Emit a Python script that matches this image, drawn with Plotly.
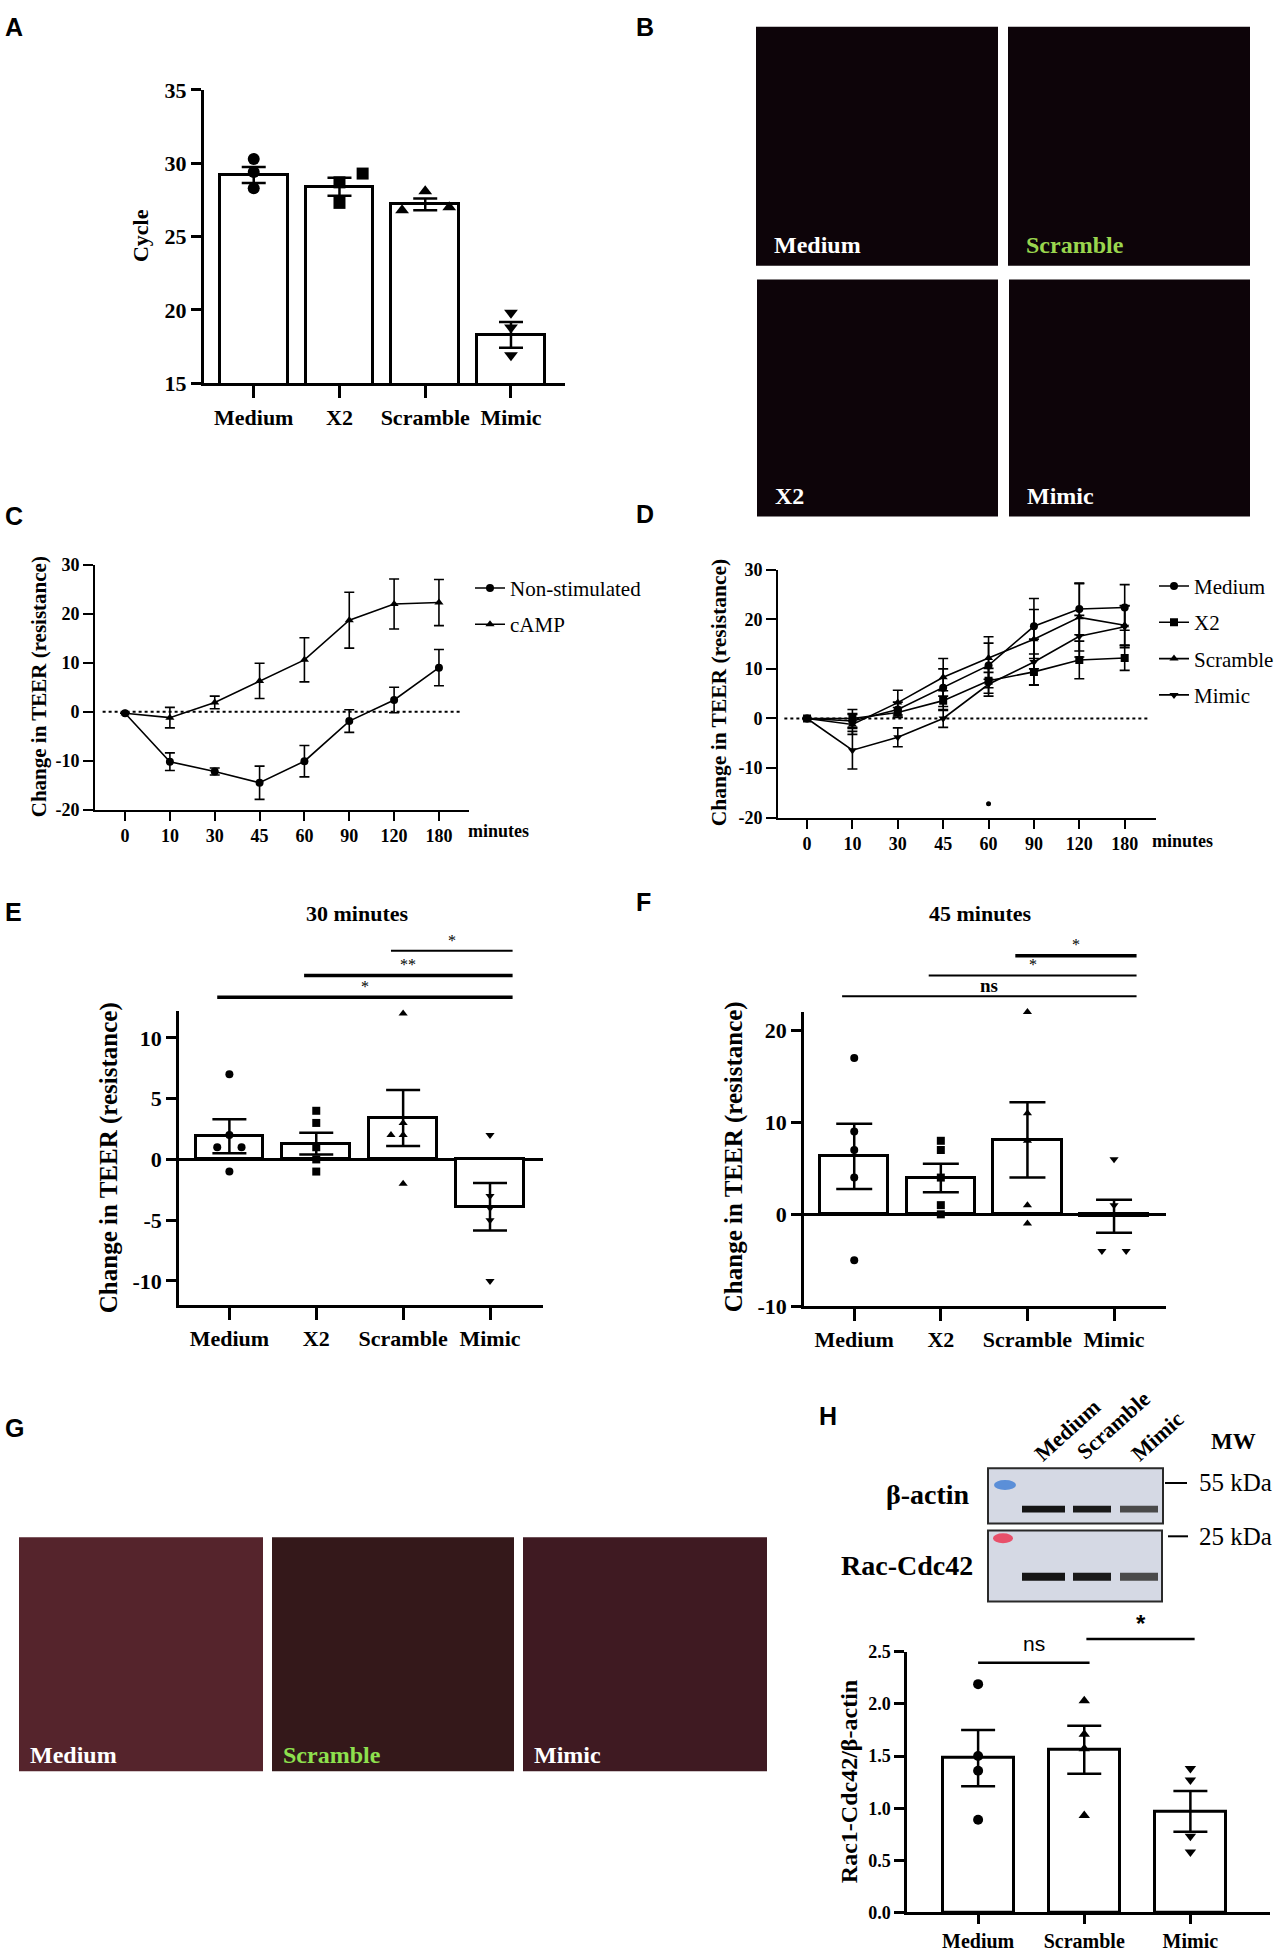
import plotly.graph_objects as go

W, H = 1284, 1960
SERIF = "Liberation Serif"
SANS = "Liberation Sans"

# ---------------- data ----------------
groups4 = ["Medium", "X2", "Scramble", "Mimic"]
groups3 = ["Medium", "Scramble", "Mimic"]

# A: qPCR cycle
cycle_mean = [29.2, 28.4, 27.2, 18.3]
cycle_sem = [0.55, 0.62, 0.40, 0.88]
cycle_pts = [[30.3, 29.4, 28.3], [29.3, 28.7, 27.3], [28.1, 26.8, 27.0], [19.8, 18.8, 16.9]]

# C / D: TEER time course
minutes = ["0", "10", "30", "45", "60", "90", "120", "180"]
c_nonstim = [-0.3, -10.2, -12.2, -14.5, -10.1, -1.9, 2.4, 9.0]
c_nonstim_err = [0, 1.8, 0.7, 3.4, 3.2, 2.3, 2.6, 3.7]
c_camp = [-0.3, -1.2, 1.9, 6.3, 10.6, 18.7, 22.0, 22.3]
c_camp_err = [0, 2.1, 1.3, 3.6, 4.5, 5.7, 5.1, 4.7]

d_medium = [0, -0.5, 1.8, 6.2, 10.7, 18.6, 22.1, 22.4]
d_medium_err = [0, 1.5, 1.5, 3.8, 4.5, 5.6, 5.2, 4.6]
d_x2 = [0, 0.0, 1.2, 3.6, 7.6, 9.4, 11.8, 12.2]
d_x2_err = [0, 1.8, 1.0, 2.0, 2.5, 2.7, 3.8, 2.5]
d_scramble = [0, -1.2, 3.2, 8.3, 12.2, 16.0, 20.4, 18.8]
d_scramble_err = [0, 2.0, 2.5, 3.8, 4.3, 6.0, 6.8, 4.0]
d_mimic = [0, -6.4, -3.8, 0.0, 6.9, 11.4, 16.6, 18.5]
d_mimic_err = [0, 3.8, 1.9, 1.8, 2.4, 4.6, 4.2, 4.2]
d_stray_x = ["60"]
d_stray_y = [-17.2]

# E: 30 minutes
e_mean = [1.9, 1.3, 3.4, -3.9]
e_sem = [1.4, 0.9, 2.3, 1.95]
e_pts = [[7, 2, 1, 1, -1], [4, 3, 1, 0, -1], [12, 3, 2, 2, -2], [2, -3, -4, -5, -10]]
e_sig = [("*", 2, 3), ("**", 1, 3), ("*", 0, 3)]

# F: 45 minutes
f_mean = [6.3, 3.95, 8.1, -0.2]
f_sem = [3.55, 1.55, 4.1, 1.8]
f_pts = [[17, 9, 7, 4, -5], [8, 7, 4, 1, 0], [22, 11, 8, 1, -1], [6, 1, 0, -4, -4]]
f_sig = [("*", 2, 3), ("*", 1, 3), ("ns", 0, 3)]

# H: Rac1-Cdc42 / beta-actin
h_mean = [1.48, 1.56, 0.97]
h_sem = [0.27, 0.23, 0.195]
h_pts = [[2.19, 1.50, 1.36, 0.89], [2.03, 1.71, 1.57, 0.93], [1.38, 1.27, 0.73, 0.58]]
h_sig = [("ns", 0, 1.05), ("*", 1.02, 2.04)]

# ---------------- layout geometry (pixels) ----------------
panels = {
    "A": dict(xd=(204, 565), yd=(79, 376), xr=(-0.58, 3.63), yr=(15, 35)),
    "C": dict(xd=(95, 469), yd=(560, 808), xr=(-0.67, 7.67), yr=(-20, 30)),
    "D": dict(xd=(778, 1156), yd=(565, 816), xr=(-0.64, 7.69), yr=(-20, 30)),
    "E": dict(xd=(179, 543), yd=(1012, 1310), xr=(-0.58, 3.61), yr=(-12, 12.2)),
    "F": dict(xd=(804, 1166), yd=(1013, 1311), xr=(-0.58, 3.6), yr=(-10, 22)),
    "H": dict(xd=(907, 1270), yd=(1661, 1925), xr=(-0.67, 2.75), yr=(0, 2.5)),
}
axis_ids = {"A": "", "C": "2", "D": "3", "E": "4", "F": "5", "H": "6"}

# horizontal jitter of dots (category units)
a_offsets = [[0, 0, 0], [0.27, 0, 0], [0, -0.27, 0.28], [0, 0, 0]]
e_offsets = [[0, 0, -0.14, 0.14, 0], [0] * 5, [0, 0, -0.14, 0, 0], [0] * 5]
f_offsets = [[0] * 5, [0] * 5, [0] * 5, [0, 0, 0, -0.14, 0.14]]
h_offsets = [[0] * 4, [0] * 4, [0] * 4]


def fx(x):
    return x / W


def fy(y):
    return 1 - y / H


def xpix(p, i):
    a, b = panels[p]["xd"]
    r0, r1 = panels[p]["xr"]
    return a + (i - r0) / (r1 - r0) * (b - a)


def font(size, bold=True, family=SERIF, color="black"):
    return dict(family=family, size=size, color=color, weight=700 if bold else 400)


fig = go.Figure()
layout_axes = {}


def setup_axes(p, ticktext, tickfont_size, yticks, lw=2.5, xticklen=12, zeroline=False):
    n = axis_ids[p]
    g = panels[p]
    layout_axes["xaxis" + n] = dict(
        domain=[fx(g["xd"][0]), fx(g["xd"][1])], range=list(g["xr"]), anchor="y" + n,
        tickmode="array", tickvals=list(range(len(ticktext))), ticktext=ticktext,
        showline=True, linecolor="black", linewidth=lw, ticks="outside", ticklen=xticklen,
        tickwidth=lw, tickcolor="black", showgrid=False, zeroline=False,
        tickfont=font(tickfont_size), fixedrange=True,
    )
    layout_axes["yaxis" + n] = dict(
        domain=[fy(g["yd"][1]), fy(g["yd"][0])], range=list(g["yr"]), anchor="x" + n,
        tickmode="array", tickvals=yticks, ticktext=[str(v) for v in yticks],
        showline=True, linecolor="black", linewidth=lw, ticks="outside", ticklen=10,
        tickwidth=lw, tickcolor="black", showgrid=False,
        zeroline=zeroline, zerolinecolor="black", zerolinewidth=3,
        tickfont=font(tickfont_size), fixedrange=True,
    )


def bar_panel(p, means, sem, pts, offsets, symbols, msize, bwidth, cap):
    n = axis_ids[p]
    xs = list(range(len(means)))
    fig.add_trace(go.Bar(
        x=xs, y=means, width=bwidth, xaxis="x" + n, yaxis="y" + n,
        marker=dict(color="white", line=dict(color="black", width=3)),
        error_y=dict(type="data", array=sem, color="black", thickness=2.5, width=cap),
        showlegend=False, hoverinfo="skip",
    ))
    for i, vals in enumerate(pts):
        fig.add_trace(go.Scatter(
            x=[i + o for o in offsets[i]], y=vals, mode="markers", xaxis="x" + n, yaxis="y" + n,
            marker=dict(symbol=symbols[i], size=msize, color="black"),
            showlegend=False, hoverinfo="skip", cliponaxis=False,
        ))


sym4 = ["circle", "square", "triangle-up", "triangle-down"]

# ---- A ----
setup_axes("A", groups4, 22, [15, 20, 25, 30, 35], lw=3)
bar_panel("A", cycle_mean, cycle_sem, cycle_pts, a_offsets, sym4, 12, 0.79, 12)

# ---- C ----
setup_axes("C", minutes, 18, [-20, -10, 0, 10, 20, 30], lw=2, xticklen=9)
idx = list(range(len(minutes)))
fig.add_trace(go.Scatter(x=[-0.5, len(minutes) - 0.5], y=[0, 0], mode="lines", xaxis="x2", yaxis="y2",
                         line=dict(color="black", width=2, dash="dot"), showlegend=False, hoverinfo="skip"))
for name, vals, err, sym in [("Non-stimulated", c_nonstim, c_nonstim_err, "circle"),
                             ("cAMP", c_camp, c_camp_err, "triangle-up")]:
    fig.add_trace(go.Scatter(
        x=idx, y=vals, name=name, mode="lines+markers", xaxis="x2", yaxis="y2",
        line=dict(color="black", width=1.6), marker=dict(symbol=sym, size=8, color="black"),
        error_y=dict(type="data", array=err, color="black", thickness=1.6, width=5),
        legend="legend", legendgroup="C" + name,
    ))

# ---- D ----
setup_axes("D", minutes, 18, [-20, -10, 0, 10, 20, 30], lw=2, xticklen=9)
fig.add_trace(go.Scatter(x=[-0.5, len(minutes) - 0.5], y=[0, 0], mode="lines", xaxis="x3", yaxis="y3",
                         line=dict(color="black", width=2, dash="dot"), showlegend=False, hoverinfo="skip"))
for name, vals, err, sym in [("Medium", d_medium, d_medium_err, "circle"),
                             ("X2", d_x2, d_x2_err, "square"),
                             ("Scramble", d_scramble, d_scramble_err, "triangle-up"),
                             ("Mimic", d_mimic, d_mimic_err, "triangle-down")]:
    fig.add_trace(go.Scatter(
        x=idx, y=vals, name=name, mode="lines+markers", xaxis="x3", yaxis="y3",
        line=dict(color="black", width=1.6), marker=dict(symbol=sym, size=8, color="black"),
        error_y=dict(type="data", array=err, color="black", thickness=1.6, width=5),
        legend="legend2", legendgroup="D" + name,
    ))
fig.add_trace(go.Scatter(x=[minutes.index(v) for v in d_stray_x], y=d_stray_y, mode="markers",
                         xaxis="x3", yaxis="y3", marker=dict(size=5, color="black"),
                         showlegend=False, hoverinfo="skip"))

# ---- E ----
setup_axes("E", groups4, 22, [-10, -5, 0, 5, 10], lw=2.5, zeroline=True)
bar_panel("E", e_mean, e_sem, e_pts, e_offsets, sym4, 8, 0.78, 17)

# ---- F ----
setup_axes("F", groups4, 22, [-10, 0, 10, 20], lw=2.5, zeroline=True)
bar_panel("F", f_mean, f_sem, f_pts, f_offsets, sym4, 8, 0.79, 18)

# ---- H ----
setup_axes("H", groups3, 20, [0, 0.5, 1.0, 1.5, 2.0, 2.5], lw=2.5, xticklen=9)
layout_axes["yaxis6"]["ticktext"] = ["0.0", "0.5", "1.0", "1.5", "2.0", "2.5"]
layout_axes["yaxis6"]["tickfont"] = font(18)
bar_panel("H", h_mean, h_sem, h_pts, h_offsets, ["circle", "triangle-up", "triangle-down"], 10, 0.67, 17)

# ---------------- annotations and shapes ----------------
ann = []
shapes = []


def text(x, y, s, f, xanchor="center", yanchor="middle", angle=0):
    ann.append(dict(x=fx(x), y=fy(y), xref="paper", yref="paper", text=s, showarrow=False,
                    font=f, xanchor=xanchor, yanchor=yanchor, textangle=angle))


def hline(x0, x1, y, w=2.5, color="black"):
    shapes.append(dict(type="line", xref="paper", yref="paper", x0=fx(x0), x1=fx(x1),
                       y0=fy(y), y1=fy(y), line=dict(color=color, width=w)))


def box(x0, y0, x1, y1, fill, line_color=None, lw=0):
    shapes.append(dict(type="rect", xref="paper", yref="paper", x0=fx(x0), x1=fx(x1),
                       y0=fy(y1), y1=fy(y0), fillcolor=fill,
                       line=dict(color=line_color or fill, width=lw)))


# panel letters
for letter, (x, y) in {"A": (3, 15), "B": (634, 15), "C": (3, 511), "D": (634, 508),
                       "E": (3, 912), "F": (634, 902), "G": (3, 1434), "H": (817, 1422)}.items():
    text(x, y, letter, font(25, family=SANS), xanchor="left")

# axis titles
text(140, 227, "Cycle", font(22), angle=-90)
text(39, 684, "Change in TEER (resistance)", font(21), angle=-90)
text(719, 690, "Change in TEER (resistance)", font(21.5), angle=-90)
text(109, 1161, "Change in TEER (resistance)", font(25), angle=-90)
text(734, 1160, "Change in TEER (resistance)", font(25), angle=-90)
text(849, 1793, "Rac1-Cdc42/\u03b2-actin", font(24), angle=-90)
text(466, 830, "minutes", font(18), xanchor="left")
text(1150, 840, "minutes", font(18), xanchor="left")
text(357, 913, "30 minutes", font(22))
text(981, 913, "45 minutes", font(22))

# significance brackets E / F
for p, sig, ys, widths in [("E", e_sig, [951, 976, 998], [2, 3.5, 3.5]),
                           ("F", f_sig, [956, 976, 997], [3.5, 2, 2])]:
    for (lab, i0, i1), y, w in zip(sig, ys, widths):
        x0, x1 = xpix(p, i0 - 0.14), xpix(p, i1 + 0.26)
        hline(x0, x1, y, w)
        text((x0 + x1) / 2, y - 11, lab, font(16 if lab != "ns" else 19, bold=lab == "ns"))

# significance brackets H
for (lab, i0, i1), y in zip(h_sig, [1672, 1648]):
    x0, x1 = xpix("H", i0), xpix("H", i1)
    hline(x0, x1, y, 2.5)
    if lab == "ns":
        text((x0 + x1) / 2, y - 19, lab, font(21, bold=False, family=SANS))
    else:
        text((x0 + x1) / 2, y - 16, lab, font(24, family=SANS))

# microscopy panels (B)
b_boxes = [((756, 15, 998, 257), "Medium", "white"), ((1008, 15, 1250, 257), "Scramble", "#9ad64e"),
           ((757, 271, 998, 511), "X2", "white"), ((1009, 271, 1250, 511), "Mimic", "white")]
for (x0, y0, x1, y1), lab, col in b_boxes:
    box(x0, y0, x1, y1, "#0d0409")
    text(x0 + 16, y1 - 21, lab, font(24, color=col), xanchor="left")

# microscopy panels (G)
g_boxes = [((19, 1545, 263, 1782), "Medium", "white", "#55242c"),
           ((272, 1545, 514, 1782), "Scramble", "#8ee04e", "#34181a"),
           ((523, 1545, 767, 1782), "Mimic", "white", "#3f1a22")]
for (x0, y0, x1, y1), lab, col, fill in g_boxes:
    box(x0, y0, x1, y1, fill)
    text(x0 + 9, y1 - 16, lab, font(24, color=col), xanchor="left")

# western blot (H)
box(988, 1475, 1163, 1531, "#d5d9e4", "#2a2a2a", 2)
box(988, 1538, 1162, 1610, "#d5d9e4", "#2a2a2a", 2)
shapes.append(dict(type="circle", xref="paper", yref="paper", x0=fx(994), x1=fx(1016),
                   y0=fy(1497), y1=fy(1487), fillcolor="#5b8fd8", line=dict(width=0)))
shapes.append(dict(type="circle", xref="paper", yref="paper", x0=fx(993), x1=fx(1013),
                   y0=fy(1551), y1=fy(1541), fillcolor="#e8506a", line=dict(width=0)))
for (x0, x1), c in zip([(1022, 1065), (1073, 1111), (1120, 1158)], ["#151515", "#1a1a1a", "#4a4a4a"]):
    box(x0, 1513, x1, 1520, c)
    box(x0, 1581, x1, 1589, c)
text(928, 1502, "\u03b2-actin", font(28))
text(907, 1574, "Rac-Cdc42", font(28))
hline(1165, 1187, 1490, 2)
hline(1168, 1188, 1544, 2)
text(1197, 1490, "55 kDa", font(25, bold=False), xanchor="left")
text(1197, 1544, "25 kDa", font(25, bold=False), xanchor="left")
text(1233, 1448, "MW", font(23))
for (x, y), lab in zip([(1067, 1437), (1113, 1432), (1157, 1443)], groups3):
    text(x, y, lab, font(22), angle=-42)

fig.update_layout(
    width=W, height=H, margin=dict(l=0, r=0, t=0, b=0),
    paper_bgcolor="white", plot_bgcolor="rgba(0,0,0,0)",
    bargap=0, annotations=ann, shapes=shapes,
    legend=dict(x=fx(470), y=fy(563), xanchor="left", yanchor="top", font=font(21, bold=False),
                tracegroupgap=6, itemwidth=30, bgcolor="rgba(0,0,0,0)"),
    legend2=dict(x=fx(1154), y=fy(561), xanchor="left", yanchor="top", font=font(21, bold=False),
                 tracegroupgap=6, itemwidth=30, bgcolor="rgba(0,0,0,0)"),
    **layout_axes,
)

fig.write_html("out.html", config={"displayModeBar": False},
               post_script="document.body.style.margin='0';")
